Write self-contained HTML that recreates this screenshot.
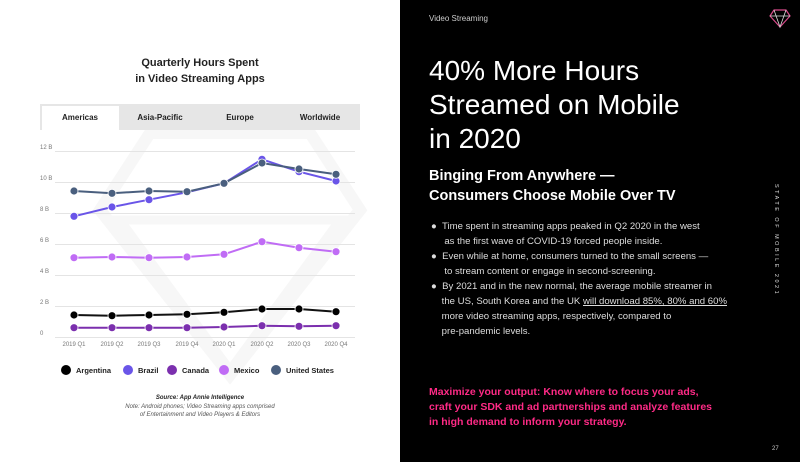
<!DOCTYPE html>
<html><head><meta charset="utf-8"><style>
*{margin:0;padding:0;box-sizing:border-box}
body{width:800px;height:462px;overflow:hidden;font-family:"Liberation Sans",sans-serif;position:relative;background:#fff}
.right{position:absolute;left:400px;top:0;width:400px;height:462px;background:#000;color:#fff}
.abs{position:absolute;white-space:nowrap}
</style></head><body>
<div class="abs" style="left:0;top:55px;width:400px;text-align:center;font-size:11px;font-weight:bold;line-height:16px;color:#222">Quarterly Hours Spent<br>in Video Streaming Apps</div>
<svg class="abs" style="left:0;top:0" width="400" height="462">
<polygon points="150,133 310,133 360,210 230,375 100,210" fill="none" stroke="#f7f7f7" stroke-width="12"/>
<polygon points="120,220 340,220 230,370" fill="none" stroke="#f7f7f7" stroke-width="9"/>
<rect x="40" y="104" width="320" height="26" fill="#e6e6e6"/>
<rect x="42" y="106" width="77" height="24" fill="#fff"/>
<g font-size="8" fill="#222" font-weight="bold" text-anchor="middle">
<text x="80" y="120">Americas</text><text x="160" y="120">Asia-Pacific</text><text x="240" y="120">Europe</text><text x="320" y="120">Worldwide</text></g>
<g stroke="#e4e4e4" stroke-width="1">
<line x1="55" x2="355" y1="151.5" y2="151.5"/><line x1="55" x2="355" y1="182.5" y2="182.5"/><line x1="55" x2="355" y1="213.5" y2="213.5"/><line x1="55" x2="355" y1="244.5" y2="244.5"/><line x1="55" x2="355" y1="275.5" y2="275.5"/><line x1="55" x2="355" y1="306.5" y2="306.5"/><line x1="55" x2="355" y1="337.5" y2="337.5"/></g>
<g font-size="6" fill="#777">
<text x="40" y="149">12 B</text><text x="40" y="180">10 B</text><text x="40" y="211">8 B</text><text x="40" y="242">6 B</text><text x="40" y="273">4 B</text><text x="40" y="304">2 B</text><text x="40" y="335">0</text></g>
<g font-size="6" fill="#777" text-anchor="middle">
<text x="74" y="346">2019 Q1</text><text x="112" y="346">2019 Q2</text><text x="149" y="346">2019 Q3</text><text x="187" y="346">2019 Q4</text><text x="224" y="346">2020 Q1</text><text x="262" y="346">2020 Q2</text><text x="299" y="346">2020 Q3</text><text x="336" y="346">2020 Q4</text></g>
<g stroke="#fff" stroke-width="0.8">
<polyline fill="none" stroke="#7b2fae" stroke-width="2" points="74,327.7 112,327.7 149,327.7 187,327.7 224,327 262,325.7 299,326.3 336,325.7"/>
<g fill="#7b2fae"><circle cx="74" cy="327.7" r="4"/><circle cx="112" cy="327.7" r="4"/><circle cx="149" cy="327.7" r="4"/><circle cx="187" cy="327.7" r="4"/><circle cx="224" cy="327" r="4"/><circle cx="262" cy="325.7" r="4"/><circle cx="299" cy="326.3" r="4"/><circle cx="336" cy="325.7" r="4"/></g>
<polyline fill="none" stroke="#111" stroke-width="2" points="74,315 112,315.7 149,315 187,314.3 224,312.3 262,309 299,309 336,311.7"/>
<g fill="#000"><circle cx="74" cy="315" r="4"/><circle cx="112" cy="315.7" r="4"/><circle cx="149" cy="315" r="4"/><circle cx="187" cy="314.3" r="4"/><circle cx="224" cy="312.3" r="4"/><circle cx="262" cy="309" r="4"/><circle cx="299" cy="309" r="4"/><circle cx="336" cy="311.7" r="4"/></g>
<polyline fill="none" stroke="#c06cf5" stroke-width="2" points="74,257.7 112,257 149,257.7 187,257 224,254.3 262,241.7 299,247.7 336,251.7"/>
<g fill="#c06cf5"><circle cx="74" cy="257.7" r="4"/><circle cx="112" cy="257" r="4"/><circle cx="149" cy="257.7" r="4"/><circle cx="187" cy="257" r="4"/><circle cx="224" cy="254.3" r="4"/><circle cx="262" cy="241.7" r="4"/><circle cx="299" cy="247.7" r="4"/><circle cx="336" cy="251.7" r="4"/></g>
<polyline fill="none" stroke="#6a55e8" stroke-width="2" points="74,216.3 112,207 149,199.7 187,192.3 224,183.3 262,159.3 299,171.7 336,181"/>
<g fill="#6a55e8"><circle cx="74" cy="216.3" r="4"/><circle cx="112" cy="207" r="4"/><circle cx="149" cy="199.7" r="4"/><circle cx="187" cy="192.3" r="4"/><circle cx="224" cy="183.3" r="4"/><circle cx="262" cy="159.3" r="4"/><circle cx="299" cy="171.7" r="4"/><circle cx="336" cy="181" r="4"/></g>
<polyline fill="none" stroke="#4a5f7e" stroke-width="2" points="74,191 112,193.3 149,191 187,191.7 224,183.3 262,163 299,169 336,174.3"/>
<g fill="#4a5f7e"><circle cx="74" cy="191" r="4"/><circle cx="112" cy="193.3" r="4"/><circle cx="149" cy="191" r="4"/><circle cx="187" cy="191.7" r="4"/><circle cx="224" cy="183.3" r="4"/><circle cx="262" cy="163" r="4"/><circle cx="299" cy="169" r="4"/><circle cx="336" cy="174.3" r="4"/></g>
</g>
<g font-size="7.5" font-weight="bold" fill="#222">
<circle cx="66" cy="370" r="5" fill="#000"/><text x="76" y="373">Argentina</text>
<circle cx="128" cy="370" r="5" fill="#6a55e8"/><text x="138" y="373">Brazil</text>
<circle cx="172" cy="370" r="5" fill="#7b2fae"/><text x="182" y="373">Canada</text>
<circle cx="224" cy="370" r="5" fill="#c06cf5"/><text x="234" y="373">Mexico</text>
<circle cx="276" cy="370" r="5" fill="#4a5f7e"/><text x="286" y="373">United States</text></g>
<g font-size="6" fill="#555" text-anchor="middle" font-style="italic">
<text x="200" y="399" font-weight="bold" fill="#222">Source: App Annie Intelligence</text>
<text x="200" y="408">Note: Android phones; Video Streaming apps comprised</text>
<text x="200" y="416">of Entertainment and Video Players &amp; Editors</text></g>
</svg>
<div class="right">
<div class="abs" style="left:29px;top:14px;font-size:8px;color:#ccc">Video Streaming</div>
<svg class="abs" style="left:369px;top:7px" width="22" height="22"><polygon points="5,3 17,3 21,9 11,20 1,9" fill="none" stroke="#d84a8a" stroke-width="1.2"/><polyline points="1,9 21,9" stroke="#ddd" fill="none" stroke-width="0.8"/><polyline points="5,3 11,20 17,3" stroke="#ddd" fill="none" stroke-width="0.8"/></svg>
<div class="abs" style="left:29px;top:54px;font-size:28px;line-height:34px;color:#fff">40% More Hours<br>Streamed on Mobile<br>in 2020</div>
<div class="abs" style="left:29px;top:166px;font-size:14.5px;font-weight:bold;line-height:20px">Binging From Anywhere —<br>Consumers Choose Mobile Over TV</div>
<div class="abs" style="left:31px;top:219px;font-size:9.6px;line-height:15px;color:#ddd">
●&nbsp; Time spent in streaming apps peaked in Q2 2020 in the west<br>&nbsp;&nbsp;&nbsp;&nbsp;&nbsp;as the first wave of COVID-19 forced people inside.<br>
●&nbsp; Even while at home, consumers turned to the small screens —<br>&nbsp;&nbsp;&nbsp;&nbsp;&nbsp;to stream content or engage in second-screening.<br>
●&nbsp; By 2021 and in the new normal, the average mobile streamer in<br>&nbsp;&nbsp;&nbsp;&nbsp;the US, South Korea and the UK <u>will download 85%, 80% and 60%</u><br>&nbsp;&nbsp;&nbsp;&nbsp;more video streaming apps, respectively, compared to<br>&nbsp;&nbsp;&nbsp;&nbsp;pre-pandemic levels.</div>
<div class="abs" style="left:29px;top:385px;font-size:10.5px;line-height:15px;font-weight:bold;color:#ff2a86">Maximize your output: Know where to focus your ads,<br>craft your SDK and ad partnerships and analyze features<br>in high demand to inform your strategy.</div>
<div class="abs" style="left:373px;top:184px;font-size:5.5px;letter-spacing:2.5px;color:#ddd;writing-mode:vertical-rl">STATE OF MOBILE 2021</div>
<div class="abs" style="left:372px;top:446px;font-size:6px;color:#ccc">27</div>
</div>
</body></html>
